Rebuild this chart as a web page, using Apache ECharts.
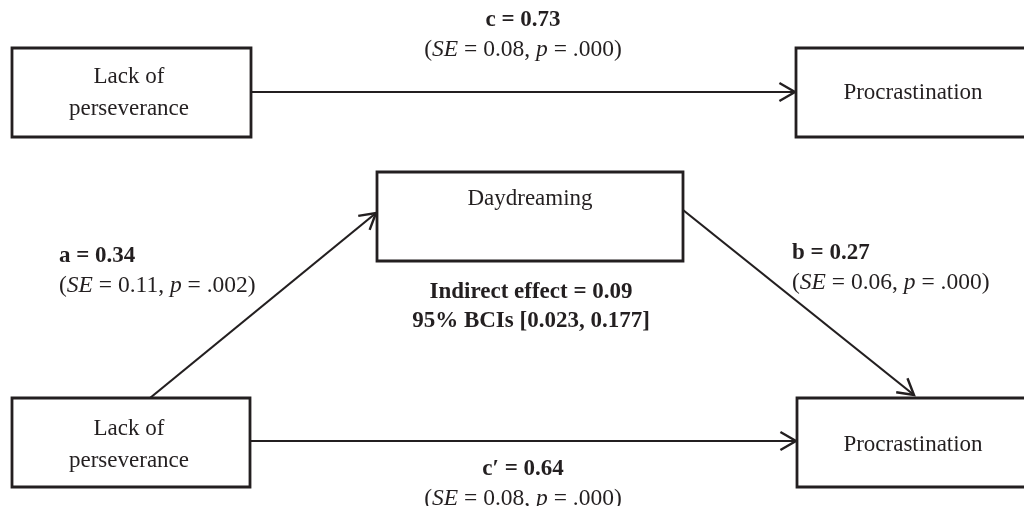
<!DOCTYPE html>
<html>
<head>
<meta charset="utf-8">
<script src="https://cdn.jsdelivr.net/npm/echarts@6/dist/echarts.min.js"></script>
<style>
  html, body { margin: 0; padding: 0; background: #fff; }
  #chart { width: 1024px; height: 506px; }
</style>
</head>
<body>
<div id="chart"></div>
<script>
// 中介模型路径图 (mediation path diagram)
const boxes = [
  [12, 48, 251, 137],
  [796, 48, 1032, 137],
  [377, 172, 683, 261],
  [12, 398, 250, 487],
  [797, 398, 1032, 487]
];
const boxNames = ['Lack of\nperseverance', 'Procrastination', 'Daydreaming', 'Lack of\nperseverance', 'Procrastination'];
const boxNameAt = [[129, 93], [913, 93], [530, 199], [129, 445], [913, 445]];

// 路径: 起点 -> 终点
const paths = [
  [251, 92, 795, 92],
  [150, 398, 376, 213],
  [683, 210, 914, 395],
  [250, 441, 796, 441]
];

const coefTexts = [
  '{b|c = 0.73}\n({i|SE} = 0.08, {i|p} = .000)',
  '{b|a = 0.34}\n({i|SE} = 0.11, {i|p} = .002)',
  '{b|b = 0.27}\n({i|SE} = 0.06, {i|p} = .000)',
  '{b|Indirect effect = 0.09}\n{b|95% BCIs [0.023, 0.177]}',
  '{b|c\u2032 = 0.64}\n({i|SE} = 0.08, {i|p} = .000)'
];
const coefAt = [[523, 35], [59, 271], [792, 268], [531, 307], [523, 484]];
const coefAlign = ['center', 'left', 'left', 'center', 'center'];

const ink = '#231f20';
const font = '"Liberation Serif", "Times New Roman", serif';

const chart = echarts.init(document.getElementById('chart'));

chart.setOption({
  backgroundColor: '#fff',
  animation: false,
  grid: { left: 0, right: 0, top: 0, bottom: 0 },
  xAxis: { type: 'value', min: 0, max: 1024, show: false },
  yAxis: { type: 'value', min: 0, max: 506, inverse: true, show: false },
  series: [
    {
      // 箭头
      type: 'custom',
      z: 1,
      clip: false,
      data: paths,
      renderItem(params, api) {
        const a = api.coord([api.value(0), api.value(1)]);
        const b = api.coord([api.value(2), api.value(3)]);
        const ang = Math.atan2(b[1] - a[1], b[0] - a[0]);
        const len = 18, spread = Math.PI / 6;
        const arm1 = [b[0] - len * Math.cos(ang - spread), b[1] - len * Math.sin(ang - spread)];
        const arm2 = [b[0] - len * Math.cos(ang + spread), b[1] - len * Math.sin(ang + spread)];
        return {
          type: 'group',
          children: [
            { type: 'line', shape: { x1: a[0], y1: a[1], x2: b[0], y2: b[1] },
              style: { stroke: ink, lineWidth: 2.2 } },
            { type: 'polyline', shape: { points: [arm1, b, arm2] },
              style: { stroke: ink, lineWidth: 2.4, fill: null, lineJoin: 'miter' } }
          ]
        };
      }
    },
    {
      // 方框
      type: 'custom',
      z: 2,
      clip: false,
      data: boxes,
      renderItem(params, api) {
        const p0 = api.coord([api.value(0), api.value(1)]);
        const p1 = api.coord([api.value(2), api.value(3)]);
        return {
          type: 'rect',
          shape: { x: p0[0], y: p0[1], width: p1[0] - p0[0], height: p1[1] - p0[1] },
          style: { fill: '#fff', stroke: ink, lineWidth: 2.8 }
        };
      }
    },
    {
      // 方框文字
      type: 'scatter',
      z: 3,
      symbolSize: 0,
      itemStyle: { opacity: 1 },
      data: boxNameAt.map((p, i) => ({ value: p, name: boxNames[i] })),
      label: {
        show: true,
        opacity: 1,
        position: [0, 0],
        align: 'center',
        verticalAlign: 'middle',
        formatter: p => p.name,
        color: ink,
        fontFamily: font,
        fontSize: 23,
        lineHeight: 32
      }
    },
    {
      // 系数文字
      type: 'scatter',
      z: 3,
      symbolSize: 0,
      itemStyle: { opacity: 1 },
      data: coefAt.map((p, i) => ({ value: p, name: coefTexts[i], label: { align: coefAlign[i] } })),
      label: {
        show: true,
        opacity: 1,
        position: [0, 0],
        verticalAlign: 'middle',
        formatter: p => p.name,
        color: ink,
        fontFamily: font,
        fontSize: 23.5,
        lineHeight: 29,
        rich: {
          b: { fontWeight: 'bold', fontFamily: font, fontSize: 23, lineHeight: 29, color: ink },
          i: { fontStyle: 'italic', fontFamily: font, fontSize: 23.5, lineHeight: 29, color: ink }
        }
      }
    }
  ]
});
</script>
</body>
</html>
